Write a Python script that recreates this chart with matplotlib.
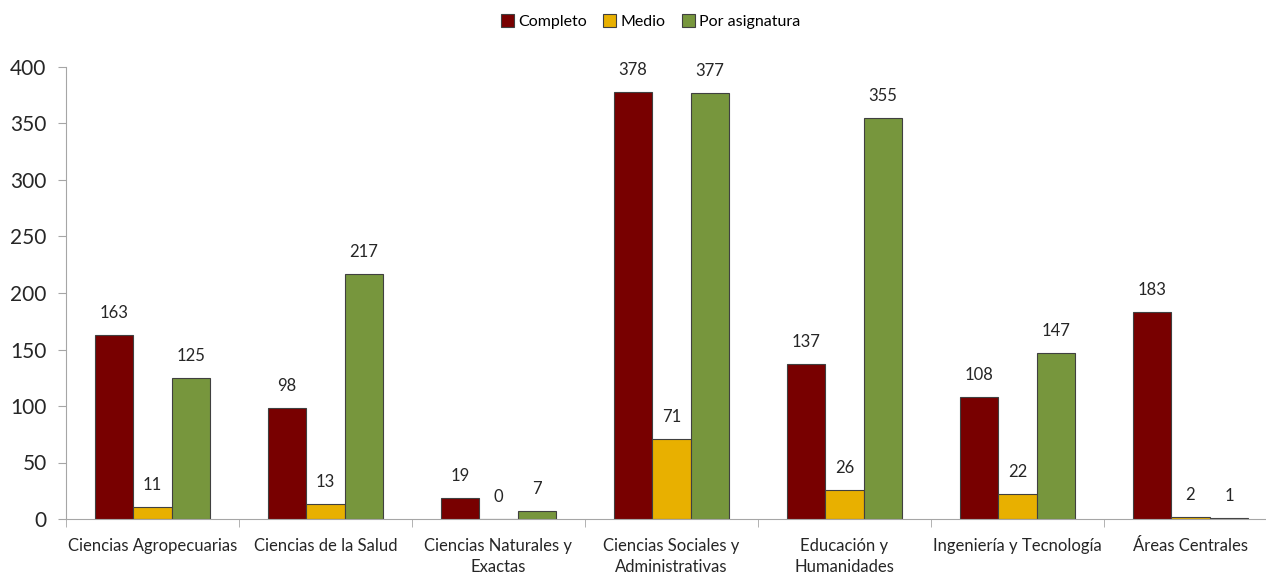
import matplotlib
matplotlib.use("Agg")
import matplotlib.pyplot as plt
import numpy as np

plt.rcParams['font.family'] = ['Lato', 'DejaVu Sans']

# datos
categorias = ["Ciencias Agropecuarias", "Ciencias de la Salud", "Ciencias Naturales y\nExactas",
              "Ciencias Sociales y\nAdministrativas", "Educación y\nHumanidades",
              "Ingeniería y Tecnología", "Áreas Centrales"]
completo = [163, 98, 19, 378, 137, 108, 183]
medio = [11, 13, 0, 71, 26, 22, 2]
por_asignatura = [125, 217, 7, 377, 355, 147, 1]

series = [("Completo", completo, "#780000"),
          ("Medio", medio, "#E8B000"),
          ("Por asignatura", por_asignatura, "#77963D")]

fig = plt.figure(figsize=(12.66, 5.74), dpi=100)
ax = fig.add_axes([66 / 1266, 1 - 519 / 574, (1277 - 66) / 1266, (519 - 67) / 574])

x = np.arange(len(categorias))
w = 0.223
for i, (nombre, vals, color) in enumerate(series):
    pos = x + (i - 1) * w
    ax.bar(pos, vals, width=w, color=color, edgecolor="#404040", linewidth=0.8, label=nombre)
    for p, v in zip(pos, vals):
        ax.annotate(str(v), (p, v), xytext=(0, 10), textcoords="offset points",
                    ha="center", va="bottom", fontsize=12, color="#262626")

ax.set_xlim(-0.5, len(categorias) - 0.5)
ax.set_ylim(0, 400)
ax.set_yticks(range(0, 401, 50))
ax.tick_params(axis="y", labelsize=15, colors="#262626", length=6, pad=8, color="#A6A6A6")
ax.set_xticks(x)
ax.set_xticklabels(categorias, fontsize=12, color="#262626", linespacing=1.35)
ax.tick_params(axis="x", length=0, pad=14)
ax.set_xticks(np.arange(-0.5, len(categorias) + 0.5, 1), minor=True)
ax.tick_params(axis="x", which="minor", length=6, color="#A6A6A6")

for s in ["top", "right"]:
    ax.spines[s].set_visible(False)
for s in ["left", "bottom"]:
    ax.spines[s].set_color("#A6A6A6")

fig.legend(loc="upper center", bbox_to_anchor=(0.514, 1.0), ncol=3, frameon=False,
           fontsize=11.5, handlelength=0.8, handleheight=0.8, handletextpad=0.3,
           columnspacing=1.0)

fig.savefig("out.png", dpi=100)
